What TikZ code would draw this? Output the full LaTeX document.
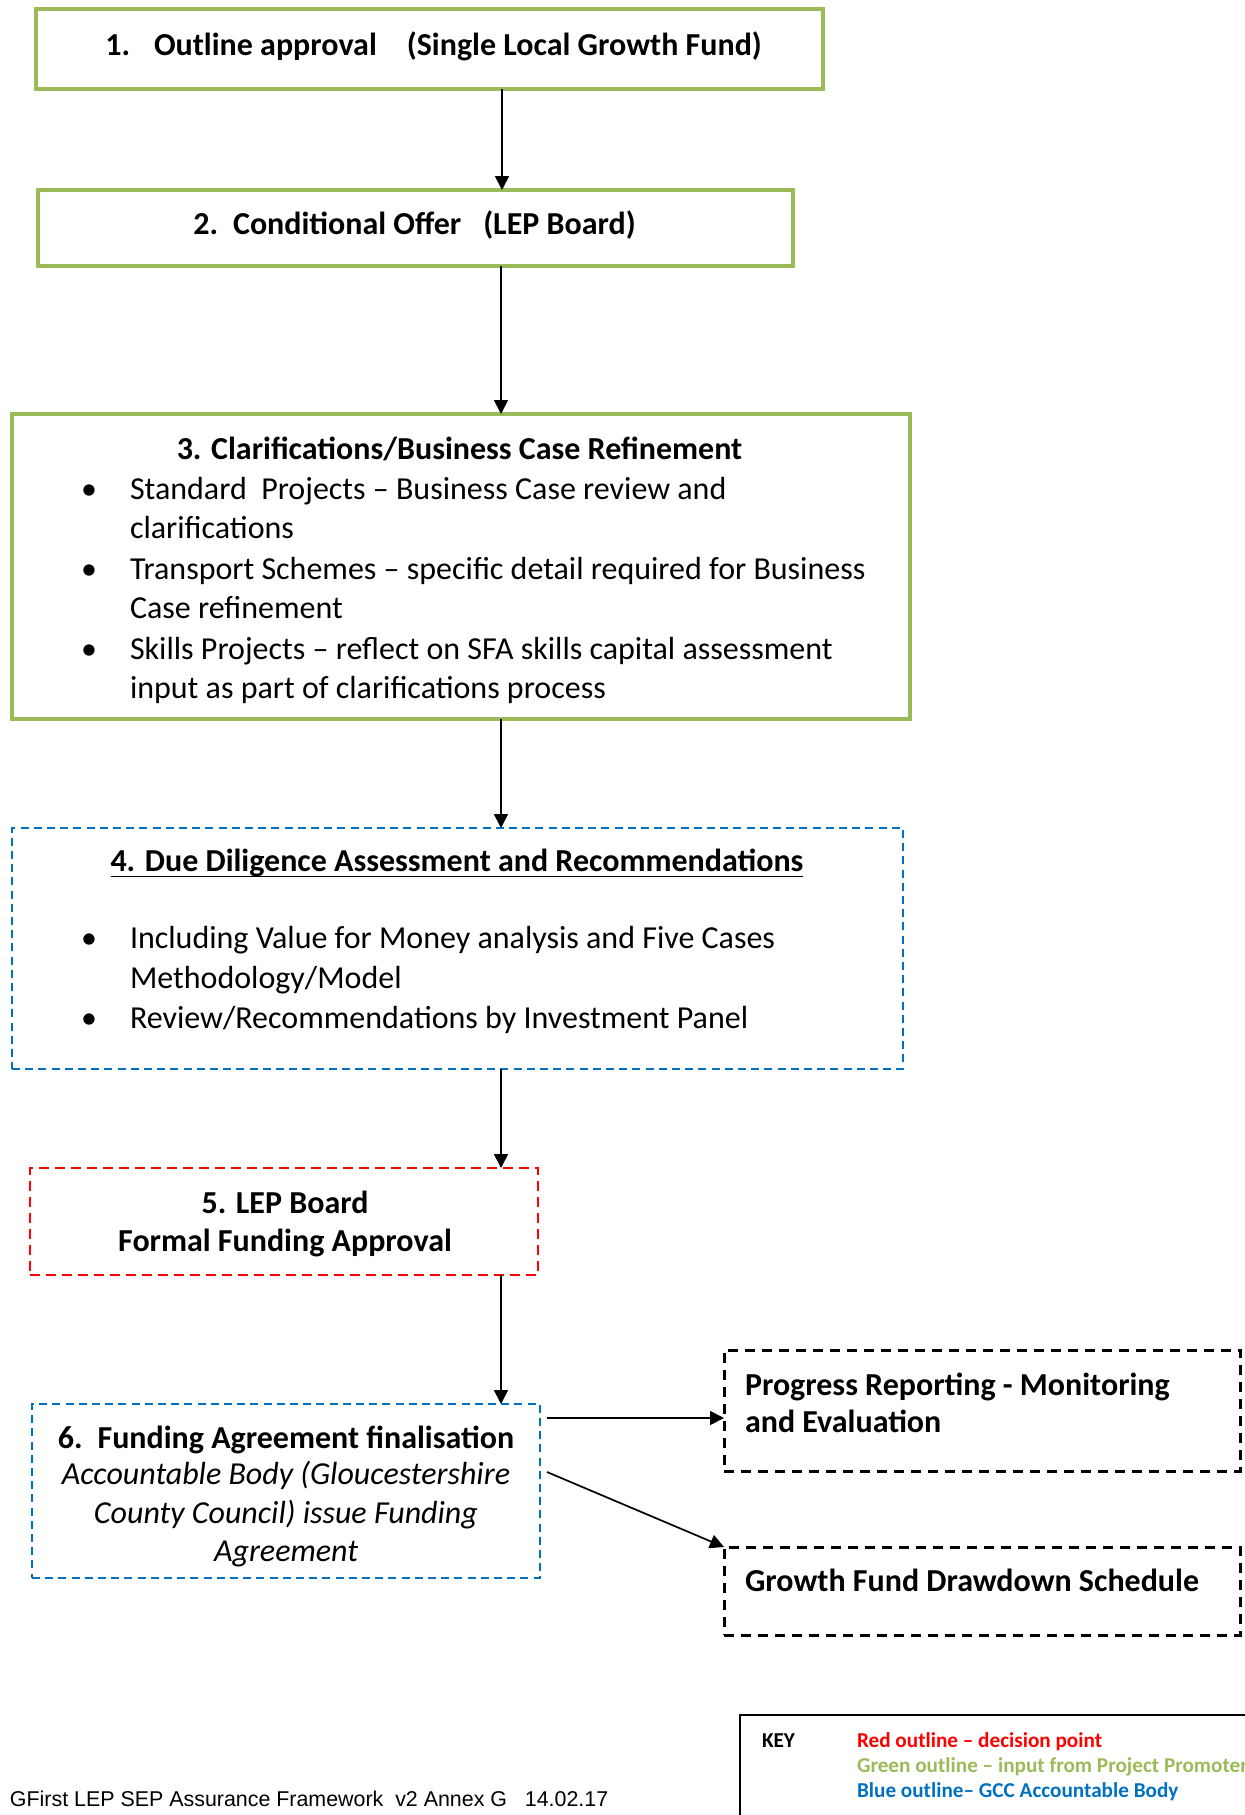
\documentclass[tikz,border=0pt]{standalone}
\usepackage{fontspec}
\setmainfont{Carlito}
\newfontfamily\footfont{Liberation Sans}
\usetikzlibrary{arrows.meta,fit}

\definecolor{stepgreen}{RGB}{155,187,89}
\definecolor{bodyblue}{RGB}{0,112,192}
\definecolor{decred}{RGB}{255,0,0}

\begin{document}
\begin{tikzpicture}[x=0.5pt,y=-0.5pt,
  every node/.style={inner sep=0pt, outer sep=0pt},
  frame/.style={inner sep=0pt, rectangle},
  greenbox/.style={frame, draw=stepgreen, line width=1.6pt},
  bluebox/.style={frame, draw=bodyblue, line width=1pt, dash pattern=on 4pt off 2.6pt},
  redbox/.style={frame, draw=decred, line width=1.3pt, dash pattern=on 5pt off 3pt},
  blackbox/.style={frame, draw=black, line width=1.5pt, dash pattern=on 5pt off 3.5pt},
  flow/.style={draw=black, line width=0.85pt, -{Triangle[length=7pt,width=7pt]}},
  body/.style={font=\fontsize{16}{19}\selectfont, yshift=-0.8pt},
  ctext/.style={body, anchor=base},
  ltext/.style={body, anchor=base west},
  btext/.style={body, font=\fontsize{16}{19}\selectfont\bfseries},
  itext/.style={body, anchor=base, font=\fontsize{16}{19}\selectfont\itshape},
  bul/.style={body, anchor=base},
  keytext/.style={anchor=base west, font=\fontsize{10.6}{13}\selectfont\bfseries}
]
\useasboundingbox (0,0) rectangle (1244,1815);

% step boxes
\node[greenbox, fit={(36,9) (823,89)}] (b1) {};
\node[greenbox, fit={(38,190) (793,266)}] (b2) {};
\node[greenbox, fit={(12,414) (910,719)}] (b3) {};
\node[bluebox, fit={(12,828) (903,1069)}] (b4) {};
\node[redbox, fit={(30,1168) (538,1275)}] (b5) {};
\node[bluebox, fit={(32,1404) (540,1578)}] (b6) {};
\node[blackbox, fit={(724,1350) (1240,1471)}] (bp) {};
\node[blackbox, fit={(724,1547) (1240,1635)}] (bg) {};

% step 1 and 2
\node[ctext, btext, anchor=base] (t1) at (433.5,52) {1.\hspace{12pt}Outline approval\hspace{15pt}(Single Local Growth Fund)};
\node[ctext, btext, anchor=base] (t2) at (414.5,231) {2.\hspace{7.5pt}Conditional Offer\hspace{11pt}(LEP Board)};

% step 3
\node[ctext, btext, anchor=base] (t3) at (459.5,456) {3. Clarifications/Business Case Refinement};
\node[bul] (u31) at (89,498) {•};
\node[bul] (u32) at (89,578) {•};
\node[bul] (u33) at (89,658) {•};
\node[ltext] (l31) at (130,498) {Standard\ \ Projects – Business Case review and};
\node[ltext] (l32) at (130,537) {clarifications};
\node[ltext] (l33) at (130,578) {Transport Schemes – specific detail required for Business};
\node[ltext] (l34) at (130,617) {Case refinement};
\node[ltext] (l35) at (130,658) {Skills Projects – reflect on SFA skills capital assessment};
\node[ltext] (l36) at (130,697) {input as part of clarifications process};

% step 4
\node[ctext, btext, anchor=base] (t4) at (457,868) {4. Due Diligence Assessment and Recommendations};
\draw[line width=0.9pt] ([yshift=-2.6pt]t4.base west) -- ([yshift=-2.6pt]t4.base east);
\node[bul] (u41) at (89,947) {•};
\node[bul] (u42) at (89,1027) {•};
\node[ltext] (l41) at (130,947) {Including Value for Money analysis and Five Cases};
\node[ltext] (l42) at (130,987) {Methodology/Model};
\node[ltext] (l43) at (130,1027) {Review/Recommendations by Investment Panel};

% step 5
\node[ctext, btext, anchor=base] (t51) at (285,1210) {5. LEP Board};
\node[ctext, btext, anchor=base] (t52) at (285,1248) {Formal Funding Approval};

% step 6
\node[ctext, btext, anchor=base] (t61) at (286,1445) {6.\hspace{7.5pt}Funding Agreement finalisation};
\node[itext] (t62) at (286,1483) {Accountable Body (Gloucestershire};
\node[itext] (t63) at (286,1522) {County Council) issue Funding};
\node[itext] (t64) at (286,1560) {Agreement};

% follow-on boxes
\node[ltext, btext, anchor=base west] (tp1) at (745,1392) {Progress Reporting - Monitoring};
\node[ltext, btext, anchor=base west] (tp2) at (745,1429) {and Evaluation};
\node[ltext, btext, anchor=base west] (tg) at (745,1588) {Growth Fund Drawdown Schedule};

% connectors
\coordinate (ax) at (501,0);
\coordinate (ax1) at (502,0);
\draw[flow] (ax1 |- b1.south) -- (ax1 |- b2.north);
\draw[flow] (ax |- b2.south) -- (ax |- b3.north);
\draw[flow] (ax |- b3.south) -- (ax |- b4.north);
\draw[flow] (ax |- b4.south) -- (ax |- b5.north);
\draw[flow] (ax |- b5.south) -- (ax |- b6.north);
\coordinate (s1) at (547,1418);
\coordinate (s2) at (547,1472);
\draw[flow] (s1) -- (bp.west |- s1);
\draw[flow] (s2) -- (bg.north west);

% key
\node[frame, draw=black, line width=1pt, fit={(740,1715) (1280,1850)}] (key) {};
\node[keytext, text=black] (k0) at (762,1747) {KEY};
\node[keytext, text=decred] (k1) at (857,1747) {Red outline – decision point};
\node[keytext, text=stepgreen] (k2) at (857,1772) {Green outline – input from Project Promoter};
\node[keytext, text=bodyblue] (k3) at (857,1797) {Blue outline– GCC Accountable Body};

% footer
\node[anchor=base west, font=\footfont\fontsize{10.7}{12}\selectfont] (foot) at (10,1806) {GFirst LEP SEP Assurance Framework\ \ v2 Annex G\ \ \ 14.02.17};
\end{tikzpicture}
\end{document}
